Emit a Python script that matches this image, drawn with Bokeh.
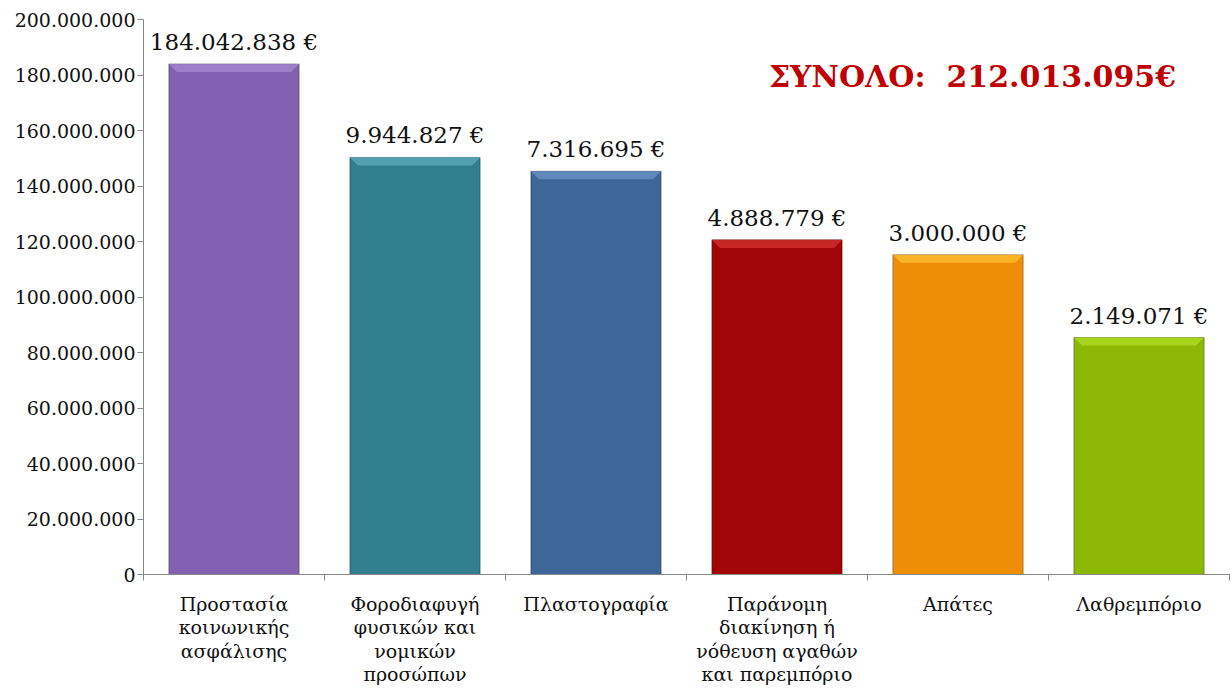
from bokeh.plotting import figure
from bokeh.models import FixedTicker, Label, Range1d
from bokeh.core.properties import value
from bokeh.embed import file_html
from bokeh.resources import INLINE

categories = ["Προστασία\nκοινωνικής\nασφάλισης",
              "Φοροδιαφυγή\nφυσικών και\nνομικών\nπροσώπων",
              "Πλαστογραφία",
              "Παράνομη\nδιακίνηση ή\nνόθευση αγαθών\nκαι παρεμπόριο",
              "Απάτες",
              "Λαθρεμπόριο"]
bar_heights = [184_000_000, 150_300_000, 145_300_000, 120_600_000, 115_200_000, 85_400_000]
value_labels = ["184.042.838 €", "9.944.827 €", "7.316.695 €", "4.888.779 €", "3.000.000 €", "2.149.071 €"]
colors = ["#8262B0", "#317E8E", "#3E6699", "#A30606", "#EE8E06", "#8AB805"]
bevel_colors = ["#A78BD0", "#5FB0C0", "#6E97CC", "#D63434", "#FFC433", "#B5E02A"]
y_ticks = [0, 20_000_000, 40_000_000, 60_000_000, 80_000_000, 100_000_000,
           120_000_000, 140_000_000, 160_000_000, 180_000_000, 200_000_000]
y_tick_labels = ["0", "20.000.000", "40.000.000", "60.000.000", "80.000.000", "100.000.000",
                 "120.000.000", "140.000.000", "160.000.000", "180.000.000", "200.000.000"]
total_text = "ΣΥΝΟΛΟ:\u00a0 212.013.095€"

FONT = "DejaVu Serif"
n = len(categories)
centers = [i + 0.5 for i in range(n)]
bw = 0.72

p = figure(width=1230, height=688, output_backend="svg", toolbar_location=None,
           x_range=Range1d(0, n), y_range=Range1d(0, 200_000_000),
           min_border_left=143, min_border_top=19, min_border_bottom=112, min_border_right=1)
p.outline_line_color = None
p.xgrid.visible = False
p.ygrid.visible = False
p.background_fill_color = "white"
p.border_fill_color = "white"

# bars
p.quad(left=[c - bw / 2 for c in centers], right=[c + bw / 2 for c in centers],
       bottom=0, top=bar_heights, fill_color=colors, line_color="#00000050", line_width=1)

# top bevel (lighter trapezoid)
bx = 0.045
by = 2_900_000
xs, ys = [], []
for c, h in zip(centers, bar_heights):
    xs.append([c - bw / 2, c + bw / 2, c + bw / 2 - bx, c - bw / 2 + bx])
    ys.append([h, h, h - by, h - by])
p.patches(xs, ys, fill_color=bevel_colors, fill_alpha=0.7, line_color=None)

# value labels
p.text(x=centers, y=bar_heights, text=value_labels, text_align="center",
       text_baseline="bottom", y_offset=-9, text_font=value(FONT),
       text_font_size="23px", text_color="#111111")

# total
p.add_layout(Label(x=4.58, y=179_500_000, text=total_text, text_align="center",
                   text_baseline="middle", text_font=FONT, text_font_size="30px",
                   text_font_style="bold", text_color="#C00000"))

# x axis
xa = p.xaxis[0]
xa.ticker = FixedTicker(ticks=centers, minor_ticks=list(range(n + 1)))
xa.major_label_overrides = {c: lab for c, lab in zip(centers, categories)}
xa.major_tick_out = 0
xa.major_tick_in = 0
xa.minor_tick_out = 6
xa.minor_tick_in = 0
xa.minor_tick_line_color = "#888888"
xa.axis_line_color = "#888888"
xa.major_label_text_font = FONT
xa.major_label_text_font_size = "19px"
xa.major_label_text_color = "#111111"
xa.major_label_standoff = 12
xa.major_label_text_line_height = 1.07

# y axis
ya = p.yaxis[0]
ya.ticker = FixedTicker(ticks=y_ticks, minor_ticks=[])
ya.major_label_overrides = {t: l for t, l in zip(y_ticks, y_tick_labels)}
ya.major_tick_out = 6
ya.major_tick_in = 0
ya.major_tick_line_color = "#888888"
ya.axis_line_color = "#888888"
ya.major_label_text_font = FONT
ya.major_label_text_font_size = "19px"
ya.major_label_text_color = "#111111"
ya.major_label_standoff = 2

open("out.html", "w").write(file_html(p, INLINE))
